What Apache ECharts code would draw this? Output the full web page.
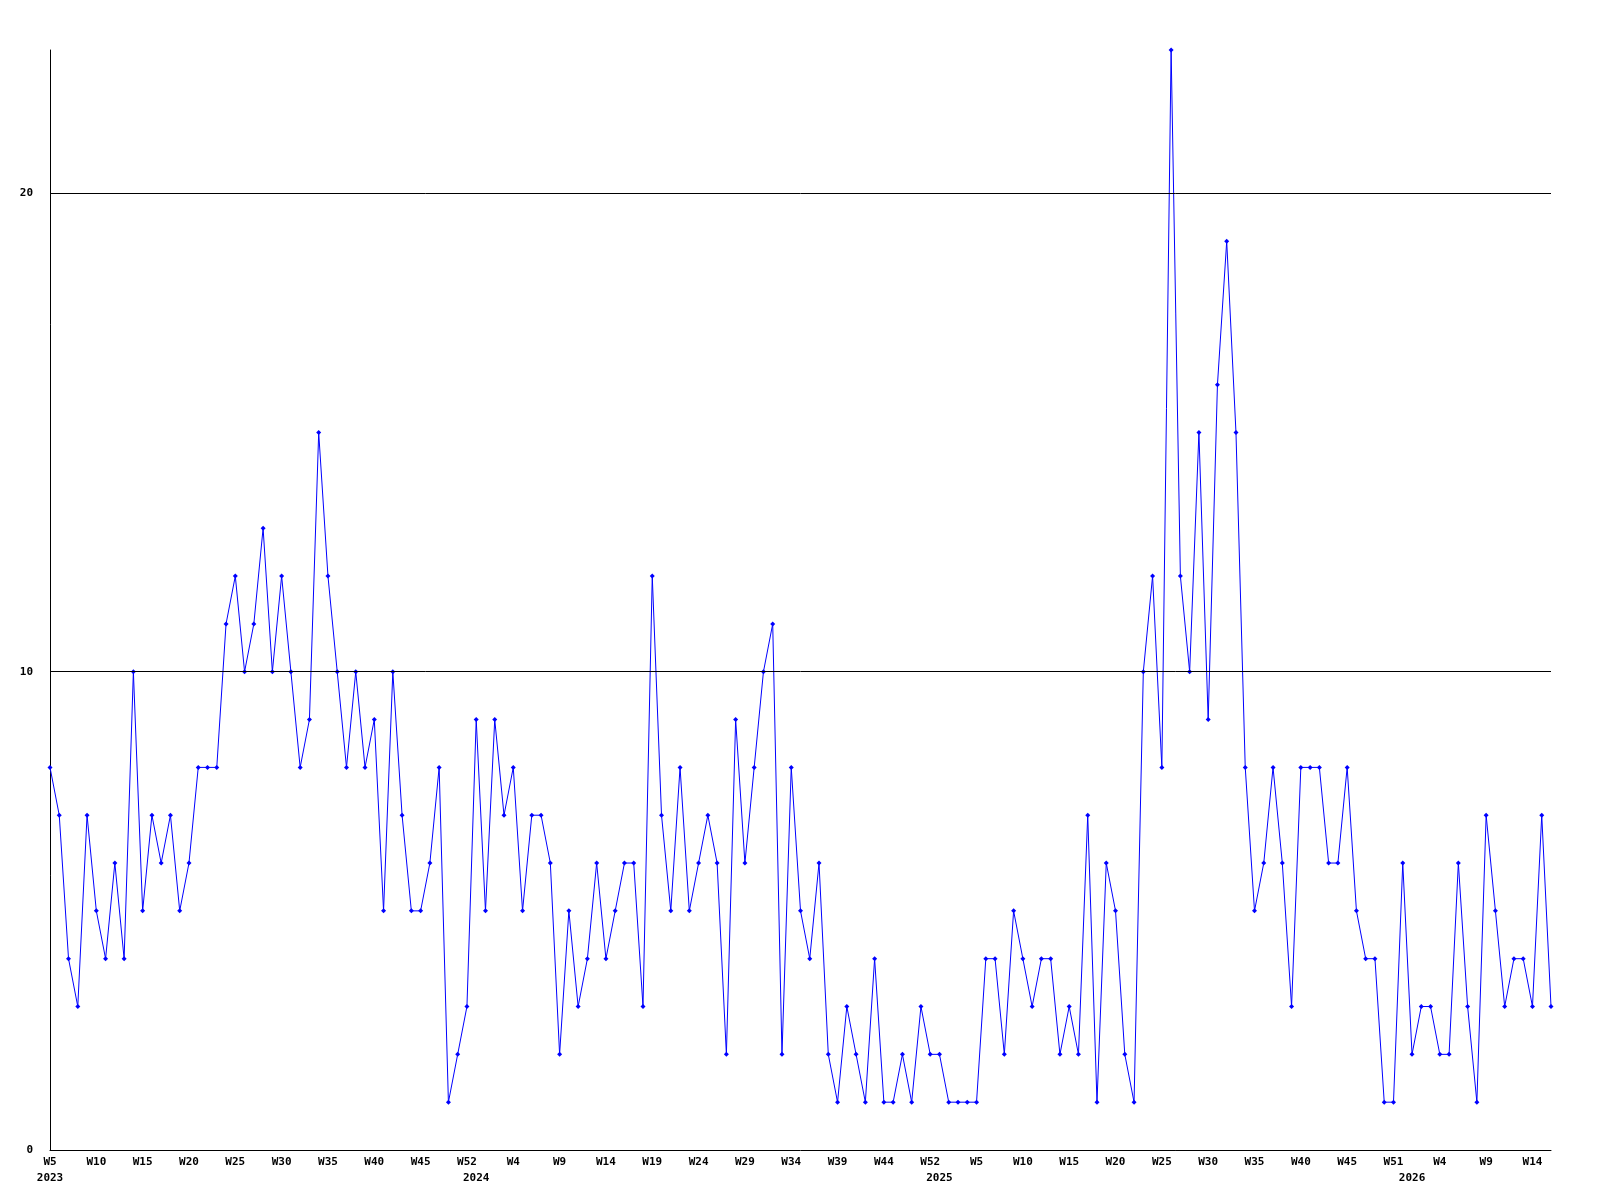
<!DOCTYPE html>
<html>
<head>
<meta charset="utf-8">
<title>Weekly count</title>
<script src="https://cdn.jsdelivr.net/npm/echarts@6/dist/echarts.min.js"></script>
<style>
  html, body { margin: 0; padding: 0; background: #fff; }
  #chart { width: 1600px; height: 1200px; }
</style>
</head>
<body>
<div id="chart"></div>
<script>
// one value per week, 2023 W5 .. 2026 W15
const weeklyCounts = [
  8, 7, 4, 3, 7, 5, 4, 6, 4, 10,
  5, 7, 6, 7, 5, 6, 8, 8, 8, 11,
  12, 10, 11, 13, 10, 12, 10, 8, 9, 15,
  12, 10, 8, 10, 8, 9, 5, 10, 7, 5,
  5, 6, 8, 1, 2, 3, 9, 5, 9, 7,
  8, 5, 7, 7, 6, 2, 5, 3, 4, 6,
  4, 5, 6, 6, 3, 12, 7, 5, 8, 5,
  6, 7, 6, 2, 9, 6, 8, 10, 11, 2,
  8, 5, 4, 6, 2, 1, 3, 2, 1, 4,
  1, 1, 2, 1, 3, 2, 2, 1, 1, 1,
  1, 4, 4, 2, 5, 4, 3, 4, 4, 2,
  3, 2, 7, 1, 6, 5, 2, 1, 10, 12,
  8, 23, 12, 10, 15, 9, 16, 19, 15, 8,
  5, 6, 8, 6, 3, 8, 8, 8, 6, 6,
  8, 5, 4, 4, 1, 1, 6, 2, 3, 3,
  2, 2, 6, 3, 1, 7, 5, 3, 4, 4,
  3, 7, 3
]

// a week label on every 5th point
const weekTicks = [
  'W5', 'W10', 'W15', 'W20', 'W25', 'W30', 'W35', 'W40', 'W45', 'W52',
  'W4', 'W9', 'W14', 'W19', 'W24', 'W29', 'W34', 'W39', 'W44', 'W52',
  'W5', 'W10', 'W15', 'W20', 'W25', 'W30', 'W35', 'W40', 'W45', 'W51',
  'W4', 'W9', 'W14'
]
const tickStep = 5

// point index where each year starts
const yearStarts = [0, 46, 96, 147]
const yearNames = ['2023', '2024', '2025', '2026']

const yTicks = [0, 10, 20]
const yMax = 23

const categories = weeklyCounts.map((_, i) => i)

const labelFont = {
  fontFamily: 'DejaVu Sans Mono',
  fontWeight: 'bold',
  fontSize: 11,
  color: '#000'
}

const chart = echarts.init(document.getElementById('chart'), null, { renderer: 'canvas' })

chart.setOption({
  animation: false,
  backgroundColor: '#fff',
  grid: { left: 50, right: 49, top: 50, bottom: 50 },
  xAxis: [
    {
      type: 'category',
      data: categories,
      boundaryGap: false,
      axisLine: { lineStyle: { color: '#000', width: 1 } },
      axisTick: { show: false },
      splitLine: { show: false },
      axisLabel: {
        ...labelFont,
        margin: 7,
        interval: (i) => i % tickStep === 0,
        formatter: (v, i) => weekTicks[i / tickStep] || ''
      }
    },
    {
      type: 'category',
      data: categories,
      position: 'bottom',
      boundaryGap: false,
      axisLine: { show: false },
      axisTick: { show: false },
      splitLine: { show: false },
      axisLabel: {
        ...labelFont,
        margin: 23,
        interval: (i) => yearStarts.includes(i),
        formatter: (v, i) => {
          const k = yearStarts.indexOf(i)
          return k >= 0 ? yearNames[k] : ''
        }
      }
    }
  ],
  yAxis: {
    type: 'value',
    min: 0,
    max: yMax,
    interval: 10,
    axisLine: { show: true, lineStyle: { color: '#000', width: 1 } },
    axisTick: { show: false },
    splitLine: { show: false },
    axisLabel: {
      ...labelFont,
      margin: 17,
      formatter: (v) => (yTicks.includes(v) ? String(v) : '')
    }
  },
  series: [
    {
      type: 'line',
      data: weeklyCounts,
      symbol: 'diamond',
      symbolSize: 5,
      showAllSymbol: true,
      lineStyle: { color: '#0000ff', width: 1 },
      itemStyle: { color: '#0000ff' },
      markLine: {
        silent: true,
        symbol: 'none',
        label: { show: false },
        lineStyle: { color: '#000', width: 1, type: 'solid' },
        data: yTicks.filter(v => v > 0).map(v => ({ yAxis: v }))
      }
    }
  ]
})
</script>
</body>
</html>
